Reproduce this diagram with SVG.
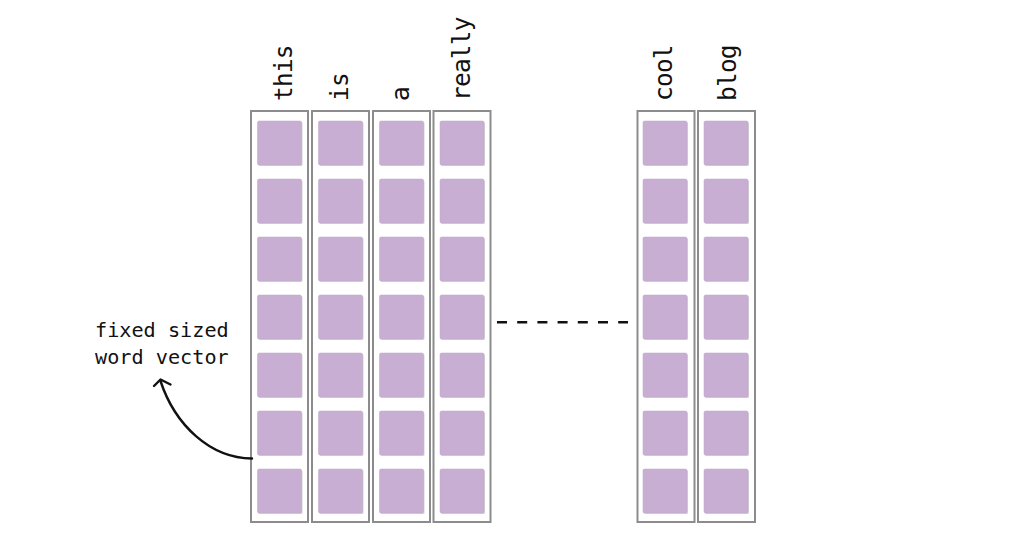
<svg xmlns="http://www.w3.org/2000/svg" width="1014" height="542" viewBox="0 0 1014 542">
<defs>
<style>
.col{fill:#fff;stroke:#8c8c8c;stroke-width:2}
.sq{fill:#c8aed3;stroke:#bfa6cb;stroke-width:0.5}
.sh{fill:#d4d4d4}
.w{font-family:"DejaVu Sans Mono","Liberation Mono",monospace;font-size:24.5px;letter-spacing:-0.8px;fill:#111}
.lbl{font-family:"DejaVu Sans Mono","Liberation Mono",monospace;font-size:20.2px;fill:#111}
.ln{fill:none;stroke:#111;stroke-width:2.4;stroke-linecap:round;stroke-linejoin:round}
</style>
<g id="cell">
<rect class="sh" x="1" y="1" width="44" height="44" rx="1.5"/>
<rect class="sq" x="0" y="0" width="44" height="44" rx="1.5"/>
</g>
<g id="cells">
<use href="#cell" x="0" y="0"/>
<use href="#cell" x="0" y="58"/>
<use href="#cell" x="0" y="116"/>
<use href="#cell" x="0" y="174"/>
<use href="#cell" x="0" y="232"/>
<use href="#cell" x="0" y="290"/>
<use href="#cell" x="0" y="348"/>
</g>
</defs>
<rect width="1014" height="542" fill="#fff"/>

<g id="node-this">
<rect class="col" x="251" y="111" width="57" height="411"/>
<use href="#cells" x="257.5" y="121"/>
<text class="w" transform="translate(291.5,101) rotate(-90)">this</text>
</g>
<g id="node-is">
<rect class="col" x="312" y="111" width="57" height="411"/>
<use href="#cells" x="318.5" y="121"/>
<text class="w" transform="translate(348.3,101) rotate(-90)">is</text>
</g>
<g id="node-a">
<rect class="col" x="373" y="111" width="57" height="411"/>
<use href="#cells" x="379.5" y="121"/>
<text class="w" transform="translate(409.3,101) rotate(-90)">a</text>
</g>
<g id="node-really">
<rect class="col" x="433.5" y="111" width="57" height="411"/>
<use href="#cells" x="440" y="121"/>
<text class="w" transform="translate(470,101) rotate(-90)">really</text>
</g>
<g id="node-cool">
<rect class="col" x="637.5" y="111" width="57" height="411"/>
<use href="#cells" x="643" y="121"/>
<text class="w" transform="translate(672.3,101) rotate(-90)">cool</text>
</g>
<g id="node-blog">
<rect class="col" x="698" y="111" width="57" height="411"/>
<use href="#cells" x="704" y="121"/>
<text class="w" transform="translate(735.7,101) rotate(-90)">blog</text>
</g>

<g id="node-label">
<text class="lbl" x="95" y="337">fixed sized</text>
<text class="lbl" x="95" y="364">word vector</text>
</g>

<g id="connectors">
<line x1="497" y1="322.3" x2="628" y2="322.3" stroke="#111" stroke-width="2.4" stroke-dasharray="10 10.2"/>
<path class="ln" d="M252 458.5 C210 458,175 425,160.5 381"/>
<path class="ln" d="M154 386 L160.5 379.5 L170.5 384.5"/>
</g>
</svg>
